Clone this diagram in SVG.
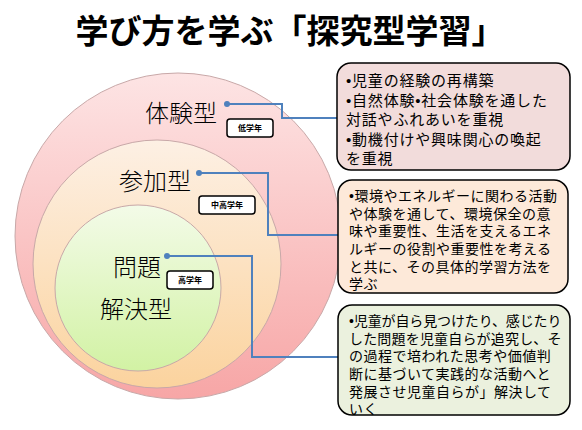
<svg xmlns="http://www.w3.org/2000/svg" width="582" height="430" viewBox="0 0 582 430">
<defs>
<linearGradient id="gOuter" x1="0" y1="0" x2="0" y2="1"><stop offset="0" stop-color="#fde4e4"/><stop offset="1" stop-color="#f7a6a6"/></linearGradient>
<linearGradient id="gMid" x1="0" y1="0" x2="0" y2="1"><stop offset="0" stop-color="#fdf0e4"/><stop offset="1" stop-color="#fbd39e"/></linearGradient>
<linearGradient id="gIn" x1="0" y1="0" x2="0" y2="1"><stop offset="0" stop-color="#f3fbe8"/><stop offset="1" stop-color="#d2f2a4"/></linearGradient>
</defs>
<style>
text{font-family:"Noto Sans CJK JP","Noto Sans",sans-serif;fill:#000}
.title{font-size:33px;font-weight:700}
.lbl{font-size:24px;font-weight:300}
.badge rect{fill:#fff;stroke:#000;stroke-width:1.5}
.badge text{font-size:8px;font-weight:700;text-anchor:middle}
.circ{stroke:#c8a8a8;stroke-width:1}
.box rect{stroke:#000;stroke-width:1.5}
.box text{font-family:"Liberation Sans","Noto Sans CJK JP",sans-serif}
.b1{font-size:15px;letter-spacing:0.8px}
.b2{font-size:14px;letter-spacing:0.5px}
.conn{fill:none;stroke:#4f81bd;stroke-width:2}
.dot{fill:#4f81bd}
</style>
<rect width="582" height="430" fill="#fff"/>
<text class="title" x="290" y="43" text-anchor="middle">学び方を学ぶ「探究型学習」</text>

<g id="outer"><circle class="circ" cx="178" cy="236" r="163" fill="url(#gOuter)"/></g>
<g id="middle"><circle class="circ" cx="157" cy="264" r="124" fill="url(#gMid)"/></g>
<g id="inner"><circle class="circ" cx="138" cy="288" r="83" fill="url(#gIn)"/></g>

<g id="taiken">
<text class="lbl" x="145" y="122">体験型</text>
<g class="badge"><rect x="227" y="119" width="46" height="18" rx="3"/><text x="250" y="131">低学年</text></g>
</g>
<g id="sanka">
<text class="lbl" x="119" y="190">参加型</text>
<g class="badge"><rect x="199" y="196" width="56" height="18" rx="3"/><text x="227" y="208">中高学年</text></g>
</g>
<g id="mondai">
<text class="lbl" x="113" y="276">問題</text>
<text class="lbl" x="100" y="318">解決型</text>
<g class="badge"><rect x="167" y="271" width="46" height="18" rx="3"/><text x="190" y="283">高学年</text></g>
</g>

<g id="connectors">
<circle class="dot" cx="227" cy="104" r="3"/>
<polyline class="conn" points="227,104 282,104 282,118 338,118"/>
<circle class="dot" cx="199" cy="173" r="3"/>
<polyline class="conn" points="199,173 268,173 268,235 338,235"/>
<circle class="dot" cx="167" cy="256" r="3"/>
<polyline class="conn" points="167,256 252,256 252,357 338,357"/>
</g>

<g id="box1" class="box">
<rect x="337" y="63" width="233" height="107" rx="14" fill="#f2dcdb"/>
<text class="b1"><tspan x="346" y="86">•児童の経験の再構築</tspan><tspan x="346" y="106">•自然体験•社会体験を通した</tspan><tspan x="346" y="125">対話やふれあいを重視</tspan><tspan x="346" y="145">•動機付けや興味関心の喚起</tspan><tspan x="346" y="164">を重視</tspan></text>
</g>
<g id="box2" class="box">
<rect x="338" y="180" width="230" height="113" rx="14" fill="#fde9d9"/>
<text class="b2"><tspan x="349" y="201">•環境やエネルギーに関わる活動</tspan><tspan x="349" y="219">や体験を通して、環境保全の意</tspan><tspan x="349" y="236">味や重要性、生活を支えるエネ</tspan><tspan x="349" y="254">ルギーの役割や重要性を考える</tspan><tspan x="349" y="272">と共に、その具体的学習方法を</tspan><tspan x="349" y="289">学ぶ</tspan></text>
</g>
<g id="box3" class="box">
<rect x="338" y="305" width="232" height="110" rx="14" fill="#ebf1de"/>
<text class="b2"><tspan x="349" y="326" textLength="213" lengthAdjust="spacing">•児童が自ら見つけたり、感じたり</tspan><tspan x="349" y="344" textLength="213" lengthAdjust="spacing">した問題を児童自らが追究し、そ</tspan><tspan x="349" y="361">の過程で培われた思考や価値判</tspan><tspan x="349" y="379">断に基づいて実践的な活動へと</tspan><tspan x="349" y="397">発展させ児童自らが」解決して</tspan><tspan x="349" y="414">いく</tspan></text>
</g>
</svg>
